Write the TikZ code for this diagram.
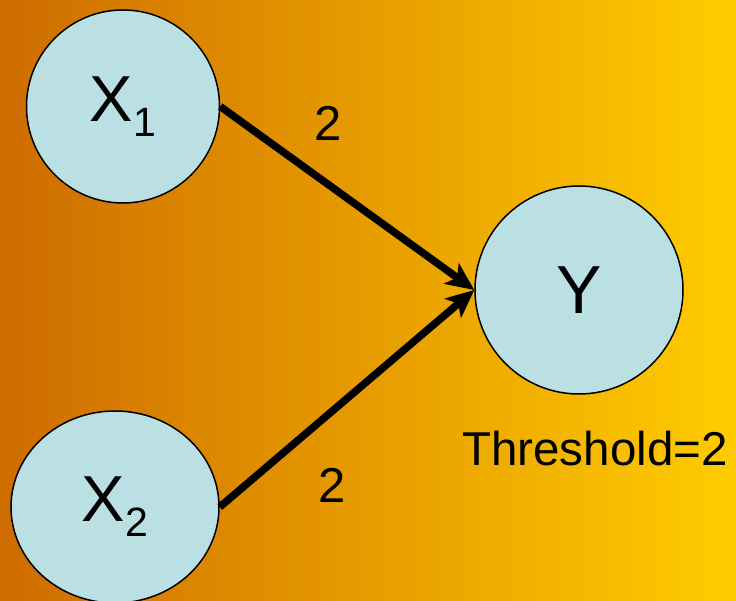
\documentclass[tikz,border=0pt]{standalone}
\usepackage{fontspec}
\setmainfont{Liberation Sans}
\usetikzlibrary{arrows.meta,shapes.geometric}
\definecolor{bgL}{RGB}{206,108,0}
\definecolor{bgR}{RGB}{255,204,0}
\definecolor{nodefill}{RGB}{187,224,227}
\newcommand{\subidx}[1]{\raisebox{-15pt}{\fontsize{41}{44}\selectfont #1}}
\begin{document}
\begin{tikzpicture}[x=1pt,y=1pt,
  neuron/.style={draw=black,line width=1.5pt,fill=nodefill,inner sep=0pt,font=\fontsize{65}{70}\selectfont},
  conn/.style={line width=7.5pt,-{Stealth[length=28pt,width=25pt,inset=7pt]}},
  wlabel/.style={font=\fontsize{49}{52}\selectfont,inner sep=0pt}]
\shade[left color=bgL,right color=bgR] (0,0) rectangle (736,601);
\useasboundingbox (0,0) rectangle (736,601);
\node[neuron,circle,minimum size=193pt] (x1) at (123,494.5) {X\subidx{1}};
\node[neuron,ellipse,minimum width=208pt,minimum height=192pt] (x2) at (115,94) {X\subidx{2}};
\node[neuron,circle,minimum size=208pt,font=\fontsize{68}{72}\selectfont] (y) at (579,311) {Y};
\draw[conn] (x1.east) -- (y.west);
\draw[conn] (x2.east) -- (y.west);
\node[wlabel] (w1) at (328,478) {2};
\node[wlabel] (w2) at (332,116) {2};
\node[font=\fontsize{47.5}{50}\selectfont,inner sep=0pt] (th) at (595,152) {Threshold=2};
\end{tikzpicture}
\end{document}
